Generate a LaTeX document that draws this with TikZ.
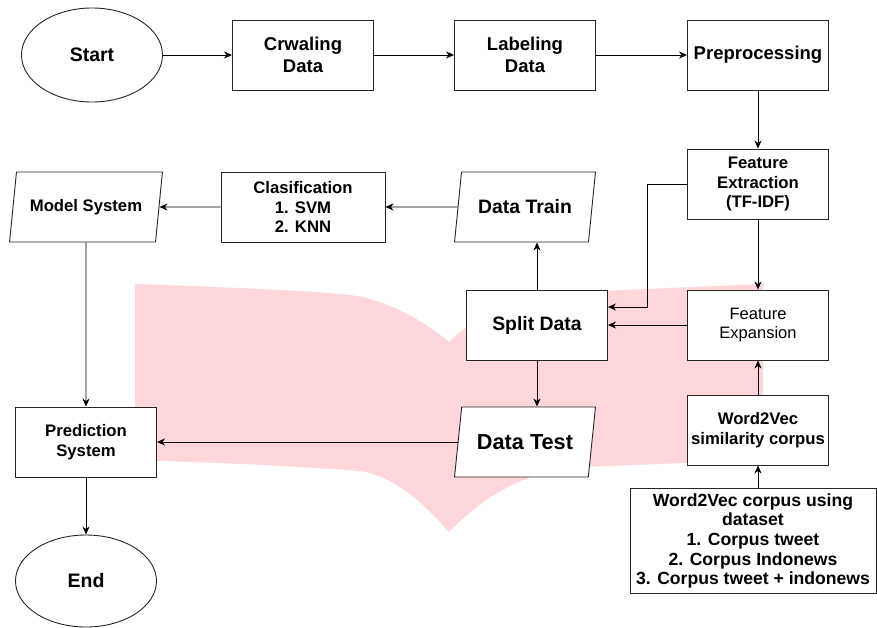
\documentclass[tikz,border=0pt]{standalone}
\usepackage{fontspec}
\setmainfont{Liberation Sans}
\usetikzlibrary{shapes.geometric,arrows.meta}
\definecolor{bookpink}{RGB}{255,214,218}
\tikzset{
  term/.style ={ellipse, draw=black!85, fill=white, minimum width=141pt, minimum height=94pt, font=\fontsize{19.5}{23}\selectfont\bfseries},
  proc/.style ={rectangle, draw=black!85, fill=white, minimum width=141pt, minimum height=70pt, align=center, inner sep=2pt},
  io/.style   ={trapezium, trapezium left angle=72, trapezium right angle=108, trapezium stretches=true, draw=black!85, fill=white, minimum width=141pt, minimum height=70pt, inner sep=1pt},
  e/.style    ={-{Stealth[length=8pt,width=7pt,inset=2.5pt]}, draw=black, line width=0.9pt},
  big/.style  ={font=\fontsize{18.5}{22.5}\selectfont\bfseries},
  mid/.style  ={font=\fontsize{16.7}{19.5}\selectfont\bfseries},
}
\begin{document}
\begin{tikzpicture}[x=1pt, y=-1pt, line width=0.9pt]
\useasboundingbox (0,0) rectangle (877,627);
%% ---------- background book ----------
\fill[bookpink] (135,284) .. controls (250,288) and (340,292) .. (362,297)
  .. controls (400,306) and (430,326) .. (449,342)
  .. controls (480,312) and (520,296) .. (600,291) -- (763,284) -- (763,460)
  -- (580,467) .. controls (520,472) and (480,500) .. (449,532)
  .. controls (425,505) and (395,476) .. (360,471)
  .. controls (300,466) and (200,462) .. (135,460) -- cycle;
%% ---------- top row ----------
\node[term] (start) at (92,55) {Start};
\node[proc, big] (crawl) at (303,55) {Crwaling\\Data};
\node[proc, big] (label) at (525,55) {Labeling\\Data};
\node[proc, big] (prep)  at (758,55) {Preprocessing};
\draw[e] (start) -- (crawl); \draw[e] (crawl) -- (label); \draw[e] (label) -- (prep);
%% ---------- features ----------
\node[proc, mid] (fext) at (758,184) {Feature\\Extraction\\(TF-IDF)};
\node[proc, font=\fontsize{16.5}{19.5}\selectfont] (fexp) at (758,325) {Feature\\Expansion};
\node[proc, mid] (wsim) at (758,430) {Word2Vec\\similarity corpus};
\node[proc, minimum width=246pt, minimum height=105pt, font=\fontsize{17.6}{19.6}\selectfont\bfseries] (corp) at (753,541)
  {Word2Vec corpus using\\dataset\\1. Corpus tweet\\2. Corpus Indonews\\3. Corpus tweet + indonews};
\draw[e] (prep) -- (fext); \draw[e] (fext) -- (fexp);
\draw[e] (wsim) -- (fexp);
\draw[e] (corp.north -| wsim.south) -- (wsim.south);
%% ---------- split and classification ----------
\node[proc, font=\fontsize{19.4}{23}\selectfont\bfseries] (split) at (537,325) {Split Data};
\node[io, font=\fontsize{19.4}{23}\selectfont\bfseries] (train) at (525,207) {Data Train};
\node[io, font=\fontsize{21.7}{25}\selectfont\bfseries] (test) at (525,442) {Data Test};
\node[proc, mid, minimum width=164pt] (cls) at (303,207) {Clasification\\1. SVM\\2. KNN};
\node[io, mid, minimum width=153pt] (model) at (86,207) {Model System};
\draw[e] (fext.west) -- ++(-40,0) |- ([yshift=18pt]split.east);
\draw[e] (fexp) -- (split);
\draw[e] (split.north) -- (split.north |- train.south);
\draw[e] (split.south) -- (split.south |- test.north);
\draw[e] (train) -- (cls); \draw[e] (cls) -- (model);
%% ---------- prediction ----------
\node[proc, mid] (pred) at (86,442) {Prediction\\System};
\node[term, minimum height=92pt] (stop) at (86,581) {End};
\draw[e] (model) -- (pred); \draw[e] (test) -- (pred); \draw[e] (pred) -- (stop);
\end{tikzpicture}
\end{document}
